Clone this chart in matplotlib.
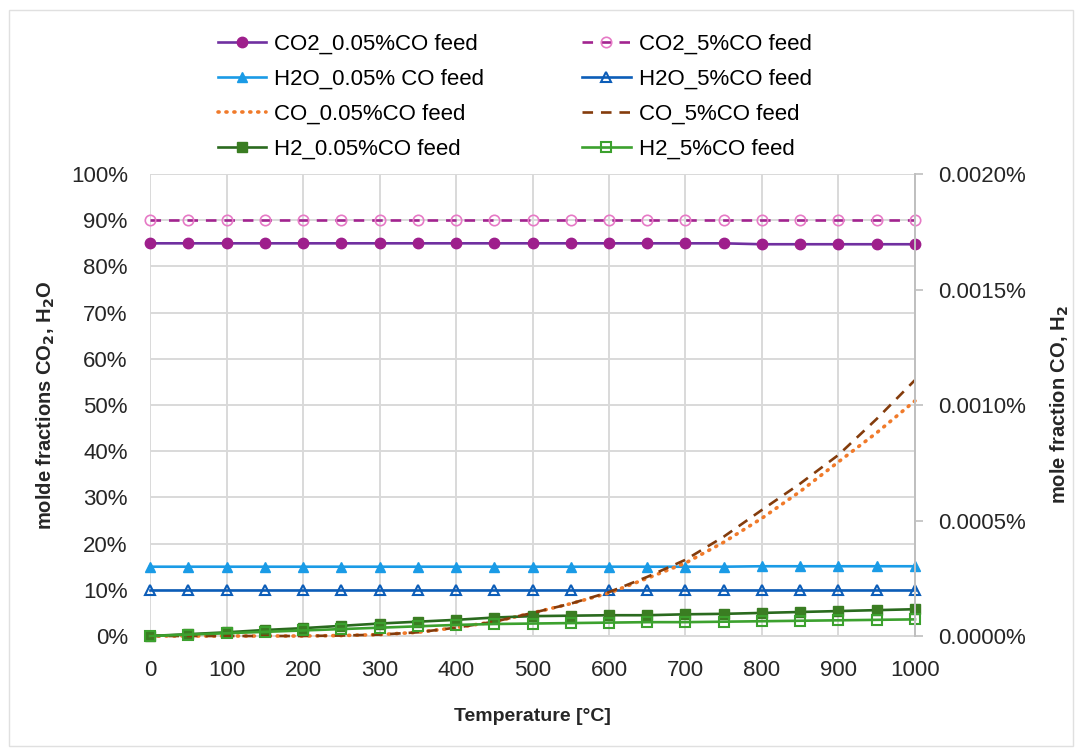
import matplotlib
matplotlib.use("Agg")
import matplotlib.pyplot as plt
from matplotlib.ticker import PercentFormatter, MultipleLocator
from matplotlib.patches import Rectangle

plt.rcParams["font.family"] = ["Liberation Sans", "DejaVu Sans"]

# Data
temps = [0, 50, 100, 150, 200, 250, 300, 350, 400, 450, 500,
         550, 600, 650, 700, 750, 800, 850, 900, 950, 1000]

# left axis (mole fraction)
co2_low = [0.85] * 16 + [0.848] * 5
co2_high = [0.90] * 21
h2o_low = [0.15] * 16 + [0.151] * 5
h2o_high = [0.10] * 21

# right axis (mole fraction)
co_low = [0, 0, 0, 0, 0, 0.02e-6, 0.06e-6, 0.16e-6, 0.36e-6, 0.62e-6, 1.0e-6,
          1.4e-6, 1.86e-6, 2.5e-6, 3.16e-6, 4.06e-6, 5.1e-6, 6.26e-6, 7.54e-6,
          8.8e-6, 10.18e-6]
co_high = [0, 0, 0, 0, 0, 0.02e-6, 0.06e-6, 0.16e-6, 0.36e-6, 0.62e-6, 1.0e-6,
           1.4e-6, 1.9e-6, 2.56e-6, 3.3e-6, 4.3e-6, 5.46e-6, 6.6e-6, 7.84e-6,
           9.4e-6, 11.08e-6]
h2_low = [0, 0.08e-6, 0.16e-6, 0.26e-6, 0.34e-6, 0.44e-6, 0.54e-6, 0.62e-6,
          0.7e-6, 0.8e-6, 0.86e-6, 0.88e-6, 0.9e-6, 0.9e-6, 0.94e-6, 0.96e-6,
          1.0e-6, 1.04e-6, 1.08e-6, 1.12e-6, 1.16e-6]
h2_high = [0, 0.06e-6, 0.12e-6, 0.18e-6, 0.24e-6, 0.3e-6, 0.36e-6, 0.42e-6,
           0.48e-6, 0.52e-6, 0.54e-6, 0.56e-6, 0.58e-6, 0.6e-6, 0.6e-6, 0.62e-6,
           0.64e-6, 0.66e-6, 0.68e-6, 0.7e-6, 0.72e-6]

GRID = "#D9D9D9"
TEXT = "#262626"

fig = plt.figure(figsize=(10.81, 7.55), dpi=100)
fig.patches.append(Rectangle((0.008, 0.012), 0.985, 0.975, transform=fig.transFigure,
                             fill=False, edgecolor="#E0E0E0", linewidth=1))

ax = fig.add_axes([0.1388, 0.1576, 0.7076, 0.6119])
ax2 = ax.twinx()

lw = 1.9
ms = 7.5
h = []
h += ax.plot(temps, co2_low, color="#7030A0", lw=lw, marker="o", ms=ms,
             mfc="#9E1F8C", mec="#9E1F8C", label="CO2_0.05%CO feed")
h += ax.plot(temps, h2o_low, color="#1A9BE6", lw=lw, marker="^", ms=ms,
             mfc="#1A9BE6", mec="#1A9BE6", label="H2O_0.05% CO feed")
h += ax2.plot(temps, co_low, color="#F07A2A", lw=2.6, ls=(0, (0.3, 1.9)),
              dash_capstyle="round", label="CO_0.05%CO feed")
h += ax2.plot(temps, h2_low, color="#2A6A1E", lw=lw, marker="s", ms=ms,
              mfc="#3A7D22", mec="#3A7D22", label="H2_0.05%CO feed")
h += ax.plot(temps, co2_high, color="#A2248F", lw=lw, ls=(0, (4, 3)), marker="o",
             ms=ms, mfc="none", mec="#E67AC6", mew=1.2, label="CO2_5%CO feed")
h += ax.plot(temps, h2o_high, color="#0C5DB8", lw=lw, marker="^", ms=ms,
             mfc="none", mec="#0C5DB8", mew=1.5, label="H2O_5%CO feed")
h += ax2.plot(temps, co_high, color="#843C0C", lw=lw, ls=(0, (4, 3)),
              label="CO_5%CO feed")
h += ax2.plot(temps, h2_high, color="#3CA12E", lw=lw, marker="s", ms=ms,
              mfc="none", mec="#3CA12E", mew=1.5, label="H2_5%CO feed")
for line in h:
    line.set_clip_on(False)

for a in (ax, ax2):
    a.set_xlim(0, 1000)
    for s in ("top", "left", "right", "bottom"):
        a.spines[s].set_visible(False)

ax.set_ylim(0, 1)
ax.yaxis.set_major_locator(MultipleLocator(0.1))
ax.yaxis.set_major_formatter(PercentFormatter(xmax=1, decimals=0))
ax.xaxis.set_major_locator(MultipleLocator(100))
ax.grid(True, color=GRID, linewidth=1.4)
ax.set_axisbelow(True)
ax.spines["bottom"].set_visible(True)
ax.spines["bottom"].set_color(GRID)
ax.spines["bottom"].set_linewidth(1.4)
ax.tick_params(axis="y", length=0, labelsize=16, colors=TEXT, pad=16)
ax.tick_params(axis="x", length=0, labelsize=16, colors=TEXT, pad=17)

ax2.set_ylim(0, 2e-5)
ax2.yaxis.set_major_locator(MultipleLocator(5e-6))
ax2.yaxis.set_major_formatter(PercentFormatter(xmax=1, decimals=4))
ax2.spines["right"].set_visible(True)
ax2.spines["right"].set_color("#BFBFBF")
ax2.spines["right"].set_linewidth(1.4)
ax2.tick_params(axis="y", length=6, width=1.2, color="#BFBFBF", labelsize=16,
                labelcolor=TEXT, pad=11)

ax.set_xlabel("Temperature [°C]", fontsize=14, fontweight="bold", color=TEXT, labelpad=20)
ax.set_ylabel("molde fractions CO$_\\mathbf{2}$, H$_\\mathbf{2}$O", fontsize=14.5,
              fontweight="bold", color=TEXT, labelpad=10)
ax2.set_ylabel("mole fraction CO, H$_\\mathbf{2}$", fontsize=14.5, fontweight="bold",
               color=TEXT, labelpad=16)

fig.legend(handles=h, loc="upper left", bbox_to_anchor=(0.193, 0.967), ncol=2,
           frameon=False, fontsize=16, handlelength=2.2, handletextpad=0.35,
           columnspacing=4.4, labelspacing=0.63, borderaxespad=0)

fig.savefig("out.png", dpi=100)
